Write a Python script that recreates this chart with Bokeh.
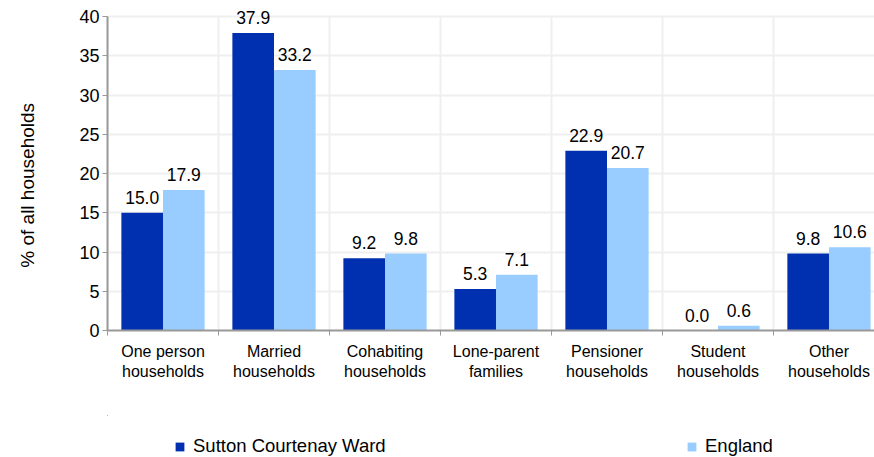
from bokeh.plotting import figure
from bokeh.models import ColumnDataSource, FixedTicker, Legend, LegendItem, LabelSet
from bokeh.layouts import column
from bokeh.core.properties import value
from bokeh.embed import file_html
from bokeh.resources import INLINE

categories = ["One person\nhouseholds", "Married\nhouseholds", "Cohabiting\nhouseholds",
              "Lone-parent\nfamilies", "Pensioner\nhouseholds", "Student\nhouseholds",
              "Other\nhouseholds"]
sutton = [15.0, 37.9, 9.2, 5.3, 22.9, 0.0, 9.8]
england = [17.9, 33.2, 9.8, 7.1, 20.7, 0.6, 10.6]
series_names = ["Sutton Courtenay Ward", "England"]
y_ticks = [0, 5, 10, 15, 20, 25, 30, 35, 40]

DARK = "#0030B0"
LIGHT = "#99CCFF"
FONT = "Liberation Sans"
GRID = "#efefef"

n = len(categories)
centers = [i + 0.5 for i in range(n)]
bounds = list(range(n + 1))
y_top = y_ticks[-1]
y_end = y_top * (1 + 8 / 314)   # a little headroom above the top tick so top labels are not clipped

p = figure(width=874, height=415, output_backend="svg", toolbar_location=None,
           x_range=(0, 6.91), y_range=(0, y_end),
           min_border_left=107, min_border_right=0, min_border_top=8, min_border_bottom=85)
p.outline_line_color = None

src1 = ColumnDataSource(dict(x=[c - 0.1875 for c in centers], top=sutton,
                             lab=[f"{v:.1f}" for v in sutton]))
src2 = ColumnDataSource(dict(x=[c + 0.1875 for c in centers], top=england,
                             lab=[f"{v:.1f}" for v in england]))

# vertical category separators, from 0 to the top tick
p.segment(x0=bounds, x1=bounds, y0=[0] * len(bounds), y1=[y_top] * len(bounds),
          line_color=GRID, line_width=2)

p.vbar(x="x", top="top", width=0.375, bottom=0, source=src1, fill_color=DARK, line_color=None)
p.vbar(x="x", top="top", width=0.375, bottom=0, source=src2, fill_color=LIGHT, line_color=None)

for src in (src1, src2):
    p.add_layout(LabelSet(x="x", y="top", text="lab", source=src, text_align="center",
                          text_baseline="alphabetic", y_offset=9, text_font=value(FONT),
                          text_font_size="17.5px", text_color="#000000"))

# x axis
p.xaxis.ticker = FixedTicker(ticks=centers, minor_ticks=bounds)
p.xaxis.major_label_overrides = {c: lab for c, lab in zip(centers, categories)}
p.xaxis.major_tick_line_color = None
p.xaxis.minor_tick_line_color = "#999999"
p.xaxis.minor_tick_out = 5
p.xaxis.minor_tick_in = 0
p.xaxis.axis_line_color = "#999999"
p.xaxis.axis_line_width = 2
p.xaxis.major_label_text_font = FONT
p.xaxis.major_label_text_font_size = "16px"
p.xaxis.major_label_text_color = "#000000"
p.xaxis.major_label_standoff = 6

# y axis
p.yaxis.ticker = FixedTicker(ticks=y_ticks)
p.yaxis.bounds = (0, y_top)
p.yaxis.minor_tick_line_color = None
p.yaxis.major_tick_line_color = "#999999"
p.yaxis.major_tick_out = 5
p.yaxis.major_tick_in = 0
p.yaxis.axis_line_color = "#999999"
p.yaxis.axis_line_width = 2
p.yaxis.major_label_text_font = FONT
p.yaxis.major_label_text_font_size = "18px"
p.yaxis.major_label_text_color = "#000000"
p.yaxis.major_label_standoff = 3
p.yaxis.axis_label = "% of all households" + "\u00a0" * 6
p.yaxis.axis_label_text_font = FONT
p.yaxis.axis_label_text_font_size = "19px"
p.yaxis.axis_label_text_font_style = "normal"
p.yaxis.axis_label_text_color = "#000000"
p.yaxis.axis_label_standoff = 38

# grids
p.xgrid.visible = False
p.ygrid.ticker = FixedTicker(ticks=y_ticks)
p.ygrid.grid_line_color = GRID
p.ygrid.grid_line_width = 2

# legend strip as its own figure (its bars are zero-width and out of view; only the legend shows)
lf = figure(width=874, height=42, output_backend="svg", toolbar_location=None,
            x_range=(100, 101), y_range=(-2, -1), min_border=0)
lf.axis.visible = False
lf.grid.visible = False
lf.outline_line_color = None
lr1 = lf.vbar(x="x", top="top", width=0, bottom=0, source=src1, fill_color=DARK, line_color=None)
lr2 = lf.vbar(x="x", top="top", width=0, bottom=0, source=src2, fill_color=LIGHT, line_color=None)

for r, name, xloc in ((lr1, series_names[0], 67), (lr2, series_names[1], 579)):
    lg = Legend(items=[LegendItem(label=name, renderers=[r])], location=(xloc, 0),
                orientation="horizontal", padding=0, margin=0, border_line_color=None,
                background_fill_alpha=0, glyph_width=11, glyph_height=11, label_standoff=8,
                label_text_font=FONT, label_text_font_size="18.5px", label_text_color="#000000")
    lf.add_layout(lg, "center")

layout = column(p, lf, spacing=0)
open("out.html", "w").write(file_html(layout, INLINE))
